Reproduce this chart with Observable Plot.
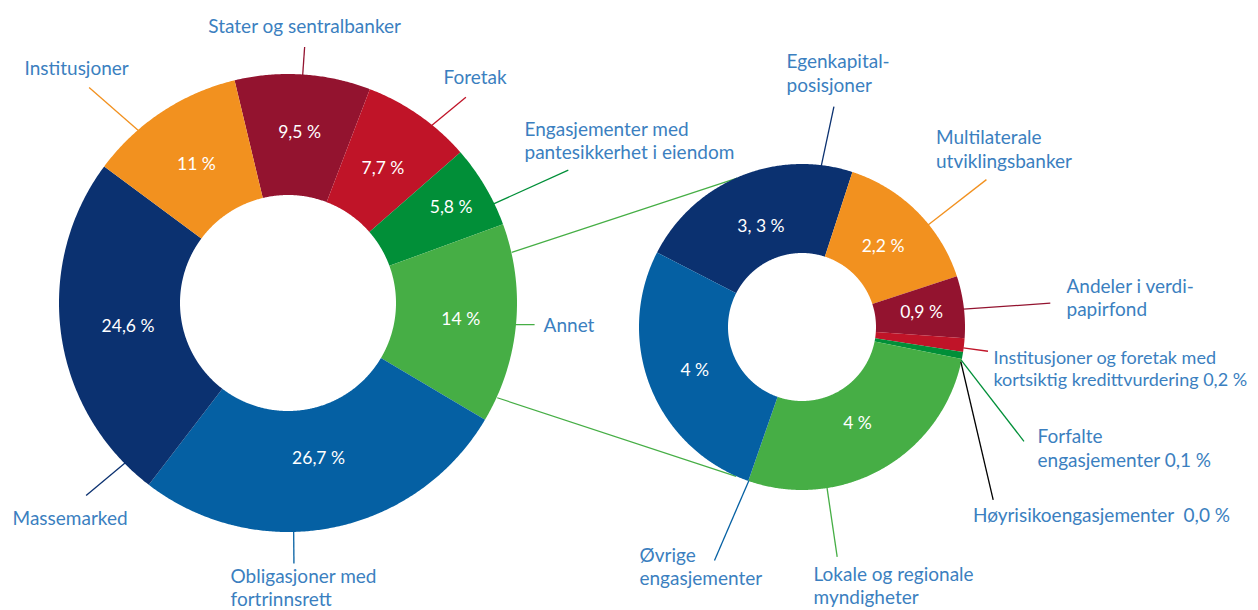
<!DOCTYPE html>
<html>
<head>
<meta charset="utf-8">
<script src="https://cdn.jsdelivr.net/npm/d3@7"></script>
<script src="https://cdn.jsdelivr.net/npm/@observablehq/plot@0.6"></script>
<style>
  html, body { margin: 0; padding: 0; background: #ffffff; }
  #chart svg { display: block; }
</style>
</head>
<body>
<div id="chart"></div>
<script>
// ---------- DATA ----------
const leftCategories = ["Stater og sentralbanker", "Foretak", "Engasjementer med pantesikkerhet i eiendom", "Annet", "Obligasjoner med fortrinnsrett", "Massemarked", "Institusjoner"];
const leftValues = [9.5, 7.7, 5.8, 14, 26.7, 24.6, 11];
const leftValueLabels = ["9,5 %", "7,7 %", "5,8 %", "14 %", "26,7 %", "24,6 %", "11 %"];
const leftCategoryLabels = ["Stater og sentralbanker", "Foretak", "Engasjementer med\npantesikkerhet i eiendom", "Annet", "Obligasjoner med\nfortrinnsrett", "Massemarked", "Institusjoner"];

const rightCategories = ["Egenkapitalposisjoner", "Multilaterale utviklingsbanker", "Andeler i verdipapirfond", "Institusjoner og foretak med kortsiktig kredittvurdering", "Forfalte engasjementer", "Høyrisikoengasjementer", "Lokale og regionale myndigheter", "Øvrige engasjementer"];
const rightValues = [3.3, 2.2, 0.9, 0.2, 0.1, 0.0, 4, 4];
const rightValueLabels = ["3, 3 %", "2,2 %", "0,9 %", "", "", "", "4 %", "4 %"];
const rightCategoryLabels = ["Egenkapital-\nposisjoner", "Multilaterale\nutviklingsbanker", "Andeler i verdi-\npapirfond", "Institusjoner og foretak med\nkortsiktig kredittvurdering 0,2 %", "Forfalte\nengasjementer 0,1 %", "Høyrisikoengasjementer\u00a0 0,0 %", "Lokale og regionale\nmyndigheter", "Øvrige\nengasjementer"];

// ---------- STYLE / LAYOUT ----------
const W = 1258, H = 610;
const NAVY = "#0b3170", BLUE = "#0560a3", ORANGE = "#f2911f", BURGUNDY = "#93132f",
      RED = "#c01428", DGREEN = "#018f38", LGREEN = "#46ae45", BLACK = "#000000";
const TEXT_BLUE = "#3b7fc0";
const FONT = "Lato, 'Open Sans', sans-serif";

const leftColors = [BURGUNDY, RED, DGREEN, LGREEN, BLUE, NAVY, ORANGE];
const rightColors = [NAVY, ORANGE, BURGUNDY, RED, DGREEN, BLACK, LGREEN, BLUE];

const leftRing = {cx: 288, cy: 303, R: 229, r: 108, start: -13.5};
const rightRing = {cx: 802, cy: 327, R: 163, r: 74, start: -62.8};

// value label radius per slice
const leftPctRadius = [171, 165, 189, 173, 158, 162, 167];
const rightPctRadius = [109, 114, 120, 0, 0, 0, 111, 116];

// leader lines: [angle at ring, radius, angle at end, radius at end, label dx, label dy, anchor, font size]
const leftLeaders = [
  [3.55, 228, 3.6, 257, 0, -21.5, "middle", 19],
  [38.8, 228, 40.7, 272, -22.4, -20.8, "start", 19],
  [64.1, 228, 64.5, 310, -43.8, -29.6, "start", 19],
  [95.3, 228, 94.9, 247, 9, 0, "start", 19],
  [178.7, 228, 178.8, 260, -63.4, 23.5, "start", 19],
  [225.7, 228, 226.5, 279, -73.6, 21.9, "start", 19],
  [319.1, 228, 317.3, 294, -64.6, -19.9, "start", 19]
];
const rightLeaders = [
  [6.6, 162, 8.1, 223, -47.4, -34.2, "start", 19],
  [50.8, 162, 51.2, 236, -50.4, -31.1, "start", 19],
  [83.5, 162, 84.4, 249, 16.2, -6.4, "start", 19],
  [97.2, 162, 97.3, 187, 5.5, 16.7, "start", 18],
  [101.6, 162, 117.2, 249, 13.6, 6.2, "start", 19],
  [102.2, 162, 132.1, 257, -20.2, 14.7, "start", 19],
  [171.3, 162, 171.4, 232, -23.7, 28.4, "start", 19],
  [199.3, 162, 200.7, 249, -75, 5.4, "start", 19]
];
// connectors between "Annet" and the breakdown: [left angle, right angle]
const connectorAngles = [[77.1, 336.4], [114.3, 204]];

// ---------- BUILD ----------
const deg = Math.PI / 180;
const polar = (ring, aDeg, rad) => [ring.cx + rad * Math.sin(aDeg * deg), ring.cy - rad * Math.cos(aDeg * deg)];

function buildRing(key, cats, values, colors, ring) {
  const arcs = d3.pie().sort(null).value(d => d)
    .startAngle(ring.start * deg).endAngle((ring.start + 360) * deg)(values);
  const pts = [];
  const slices = arcs.map((a, i) => ({
    name: cats[i], a0: a.startAngle, a1: a.endAngle, mid: (a.startAngle + a.endAngle) / 2, color: colors[i]
  }));
  slices.forEach((s, i) => {
    const span = s.a1 - s.a0;
    if (span <= 0) return;
    const n = Math.max(2, Math.ceil(span / (0.4 * deg)) + 1);
    for (let k = 0; k < n; k++) {
      const t = s.a0 + span * k / (n - 1);
      pts.push({
        id: key + i, color: s.color,
        x1: ring.cx + ring.R * Math.sin(t), y1: ring.cy - ring.R * Math.cos(t),
        x2: ring.cx + ring.r * Math.sin(t), y2: ring.cy - ring.r * Math.cos(t)
      });
    }
  });
  return {pts, slices};
}

const L = buildRing("L", leftCategories, leftValues, leftColors, leftRing);
const Rr = buildRing("R", rightCategories, rightValues, rightColors, rightRing);

function pctLabels(slices, labels, radii, ring) {
  return slices.map((s, i) => ({
    text: labels[i],
    x: ring.cx + radii[i] * Math.sin(s.mid),
    y: ring.cy - radii[i] * Math.cos(s.mid)
  })).filter(d => d.text);
}
const pcts = [...pctLabels(L.slices, leftValueLabels, leftPctRadius, leftRing),
              ...pctLabels(Rr.slices, rightValueLabels, rightPctRadius, rightRing)];

function leaders(layout, labels, colors, ring) {
  return layout.map((l, i) => {
    const [x1, y1] = polar(ring, l[0], l[1]);
    const [x2, y2] = polar(ring, l[2], l[3]);
    return {x1, y1, x2, y2, color: colors[i], text: labels[i], tx: x2 + l[4], ty: y2 + l[5], anchor: l[6], size: l[7]};
  });
}
const leads = [...leaders(leftLeaders, leftCategoryLabels, leftColors, leftRing),
               ...leaders(rightLeaders, rightCategoryLabels, rightColors, rightRing)];

const connectors = connectorAngles.map(([a, b]) => {
  const [x1, y1] = polar(leftRing, a, leftRing.R);
  const [x2, y2] = polar(rightRing, b, rightRing.R);
  return {x1, y1, x2, y2};
});

const chart = Plot.plot({
  width: W, height: H,
  margin: 0,
  x: {domain: [0, W], range: [0, W], axis: null},
  y: {domain: [0, H], range: [0, H], axis: null},
  color: {type: "identity"},
  style: {fontFamily: FONT, background: "#ffffff"},
  marks: [
    Plot.link(connectors, {x1: "x1", y1: "y1", x2: "x2", y2: "y2", stroke: LGREEN, strokeWidth: 1.2}),
    Plot.area(L.pts, {x1: "x1", y1: "y1", x2: "x2", y2: "y2", z: "id", fill: "color", curve: "linear"}),
    Plot.area(Rr.pts, {x1: "x1", y1: "y1", x2: "x2", y2: "y2", z: "id", fill: "color", curve: "linear"}),
    Plot.link(leads, {x1: "x1", y1: "y1", x2: "x2", y2: "y2", stroke: "color", strokeWidth: 1.3}),
    Plot.text(pcts, {x: "x", y: "y", text: "text", fill: "white", fontSize: 17.5, fontFamily: FONT, fontWeight: 400, textAnchor: "middle"}),
    Plot.text(leads.filter(d => d.anchor === "start"), {x: "tx", y: "ty", text: "text", fill: TEXT_BLUE, fontSize: "size", fontFamily: FONT, fontWeight: 400, textAnchor: "start", lineAnchor: "middle", lineHeight: 1.22}),
    Plot.text(leads.filter(d => d.anchor === "middle"), {x: "tx", y: "ty", text: "text", fill: TEXT_BLUE, fontSize: "size", fontFamily: FONT, fontWeight: 400, textAnchor: "middle", lineAnchor: "middle", lineHeight: 1.22})
  ]
});
document.getElementById("chart").appendChild(chart);
</script>
</body>
</html>
